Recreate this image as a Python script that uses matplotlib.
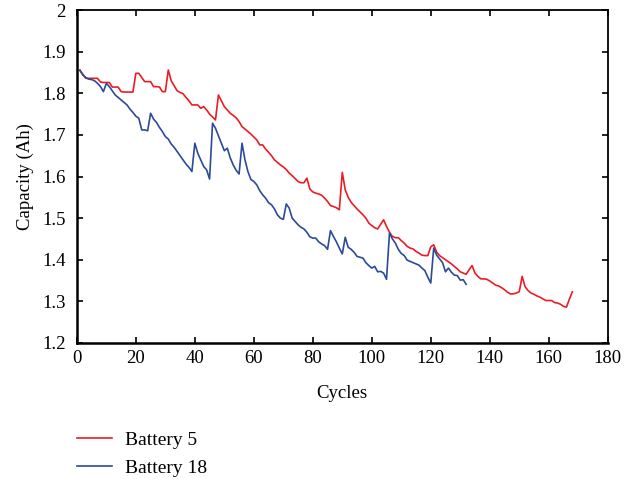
import matplotlib
matplotlib.use("Agg")
import matplotlib.pyplot as plt
import numpy as np

# capacity per cycle
battery5 = [1.856, 1.846, 1.836, 1.836, 1.836, 1.836, 1.836, 1.827, 1.826, 1.826,
            1.826, 1.815, 1.815, 1.815, 1.804, 1.803, 1.803, 1.803, 1.803, 1.848,
            1.848, 1.838, 1.828, 1.828, 1.828, 1.816, 1.816, 1.815, 1.804, 1.804,
            1.856, 1.830, 1.818, 1.806, 1.802, 1.799, 1.790, 1.782, 1.772, 1.772,
            1.772, 1.764, 1.768, 1.760, 1.750, 1.743, 1.736, 1.796, 1.782, 1.768,
            1.760, 1.752, 1.747, 1.741, 1.732, 1.720, 1.714, 1.708, 1.702, 1.695,
            1.688, 1.676, 1.676, 1.666, 1.658, 1.650, 1.640, 1.634, 1.628, 1.623,
            1.617, 1.608, 1.602, 1.595, 1.588, 1.585, 1.585, 1.596, 1.570, 1.563,
            1.560, 1.558, 1.555, 1.548, 1.540, 1.530, 1.528, 1.525, 1.520, 1.610,
            1.568, 1.550, 1.538, 1.530, 1.522, 1.515, 1.508, 1.500, 1.488, 1.482,
            1.477, 1.474, 1.485, 1.496, 1.480, 1.466, 1.456, 1.453, 1.453, 1.446,
            1.440, 1.432, 1.428, 1.426, 1.420, 1.416, 1.411, 1.410, 1.410, 1.431,
            1.436, 1.418, 1.410, 1.405, 1.400, 1.395, 1.390, 1.384, 1.378, 1.371,
            1.368, 1.365, 1.376, 1.386, 1.368, 1.360, 1.354, 1.354, 1.353, 1.349,
            1.344, 1.339, 1.337, 1.333, 1.328, 1.322, 1.318, 1.318, 1.320, 1.323,
            1.360, 1.335, 1.326, 1.320, 1.317, 1.313, 1.310, 1.306, 1.302, 1.302,
            1.302, 1.297, 1.296, 1.293, 1.288, 1.286, 1.305, 1.323]

battery18 = [1.855, 1.844, 1.838, 1.834, 1.833, 1.830, 1.824, 1.816, 1.804, 1.824,
             1.816, 1.806, 1.796, 1.790, 1.784, 1.778, 1.772, 1.762, 1.754, 1.745,
             1.740, 1.712, 1.712, 1.710, 1.752, 1.738, 1.730, 1.718, 1.708, 1.696,
             1.690, 1.678, 1.670, 1.660, 1.650, 1.640, 1.630, 1.622, 1.612, 1.680,
             1.656, 1.640, 1.624, 1.616, 1.594, 1.728, 1.716, 1.698, 1.680, 1.662,
             1.668, 1.645, 1.628, 1.615, 1.606, 1.680, 1.640, 1.612, 1.593, 1.588,
             1.580, 1.566, 1.556, 1.548, 1.537, 1.532, 1.522, 1.508, 1.500, 1.497,
             1.534, 1.524, 1.500, 1.492, 1.484, 1.478, 1.474, 1.466, 1.455, 1.452,
             1.452, 1.443, 1.438, 1.434, 1.425, 1.470, 1.456, 1.443, 1.428, 1.414,
             1.454, 1.430, 1.425, 1.418, 1.408, 1.406, 1.404, 1.393, 1.386, 1.380,
             1.384, 1.371, 1.372, 1.368, 1.353, 1.464, 1.450, 1.440, 1.425, 1.415,
             1.410, 1.399, 1.396, 1.393, 1.390, 1.387, 1.380, 1.374, 1.358, 1.344,
             1.428, 1.411, 1.402, 1.393, 1.371, 1.380, 1.370, 1.363, 1.362, 1.351,
             1.352, 1.341]

xticks = [0, 20, 40, 60, 80, 100, 120, 140, 160, 180]
yticks = [1.2, 1.3, 1.4, 1.5, 1.6, 1.7, 1.8, 1.9, 2]
ytick_labels = ["1.2", "1.3", "1.4", "1.5", "1.6", "1.7", "1.8", "1.9", "2"]

plt.rcParams['font.family'] = ['Liberation Serif', 'DejaVu Serif']

fig = plt.figure(figsize=(6.38, 4.79), dpi=100)
ax = fig.add_axes([0.1205, 0.284, 0.832, 0.695])

cyc5 = np.arange(1, len(battery5) + 1)
cyc18 = np.arange(1, len(battery18) + 1)
ax.plot(cyc5, battery5, color='#ec1c24', lw=1.2, label='Battery 5')
ax.plot(cyc18, battery18, color='#2c4a9c', lw=1.2, label='Battery 18')

ax.set_xlim(0, 180)
ax.set_ylim(1.2, 2)
ax.set_xticks(xticks)
ax.set_yticks(yticks)
ax.set_yticklabels(ytick_labels)
ax.tick_params(direction='in', length=4, width=1.2, top=True, right=True,
               labelsize=13.5)
ax.tick_params(axis='y', pad=8)
ax.tick_params(axis='x', pad=5)
for side, s in ax.spines.items():
    s.set_linewidth(1.8 if side in ('left', 'bottom') else 1.3)

ax.set_xlabel('Cycles', fontsize=13.5, labelpad=13)
ax.set_ylabel('Capacity (Ah)', fontsize=13.5, labelpad=6)

fig.legend(loc='upper left', bbox_to_anchor=(0.121, 0.100), frameon=False,
           fontsize=14, handlelength=1.8, handletextpad=0.67, labelspacing=0.55,
           borderpad=0, borderaxespad=0)

fig.savefig('out.png', dpi=100)
